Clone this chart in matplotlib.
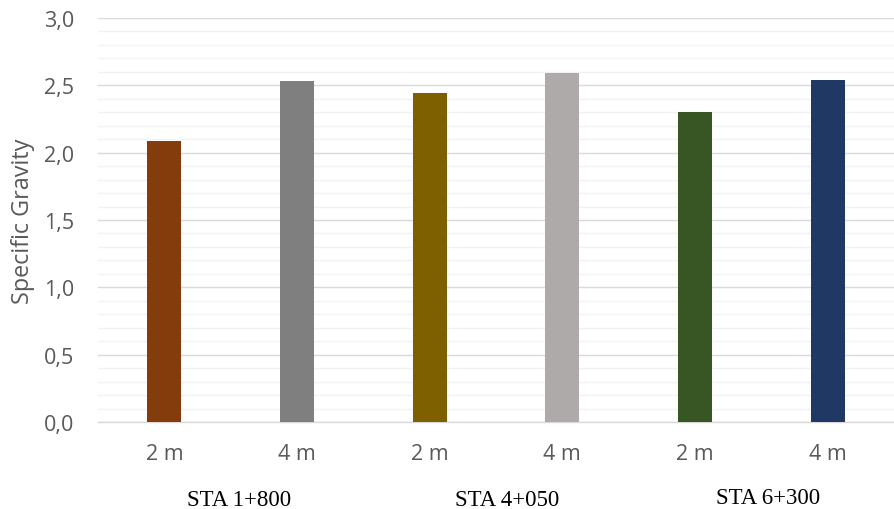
import matplotlib
matplotlib.use("Agg")
import matplotlib.pyplot as plt
import numpy as np

depths = ["2 m", "4 m", "2 m", "4 m", "2 m", "4 m"]
values = [2.09, 2.53, 2.44, 2.59, 2.30, 2.54]
colors = ["#843C0C", "#7F7F7F", "#7F6000", "#AEAAAA", "#375623", "#203864"]
stations = ["STA 1+800", "STA 4+050", "STA 6+300"]
yticks = [0.0, 0.5, 1.0, 1.5, 2.0, 2.5, 3.0]

fig = plt.figure(figsize=(8.94, 5.10), dpi=100)
ax = fig.add_axes([98/894, 1-423/510, 1-98/894, (423-19)/510])

x = np.arange(len(values))
ax.bar(x, values, width=0.255, color=colors, zorder=3)

ax.set_xlim(-0.5, len(values)-0.5)
ax.set_ylim(0, 3.0)
ax.set_yticks(yticks)
ax.set_yticklabels([f"{v:.1f}".replace(".", ",") for v in yticks],
                   fontfamily="Open Sans", fontsize=15.5, color="#595959")
ax.set_yticks(np.arange(0, 3.0001, 0.1), minor=True)
ax.grid(axis="y", which="major", color="#d9d9d9", linewidth=1.0, zorder=0)
ax.grid(axis="y", which="minor", color="#f2f2f2", linewidth=1.0, zorder=0)
ax.tick_params(axis="y", which="both", length=0, pad=17)
ax.tick_params(axis="x", length=0, pad=15)
ax.set_xticks(x)
ax.set_xticklabels(depths, fontfamily="Open Sans", fontsize=15.5, color="#595959")
for s in ["top", "right", "left"]:
    ax.spines[s].set_visible(False)
ax.spines["bottom"].set_color("#d9d9d9")
ax.spines["bottom"].set_linewidth(1.0)

ax.set_ylabel("Specific Gravity", fontfamily="Open Sans", fontsize=16.8, color="#595959",
              va="center")
ax.yaxis.set_label_coords((23-98)/796, (423-221)/404)

# station group labels
group_centers = [239, 507, 768]
group_base = [506, 506, 504]
for name, cx, cy in zip(stations, group_centers, group_base):
    fig.text(cx/894, 1-cy/510, name, ha="center", va="baseline",
             fontfamily="Liberation Serif", fontsize=16.5, color="black")

fig.savefig("out.png", dpi=100)
